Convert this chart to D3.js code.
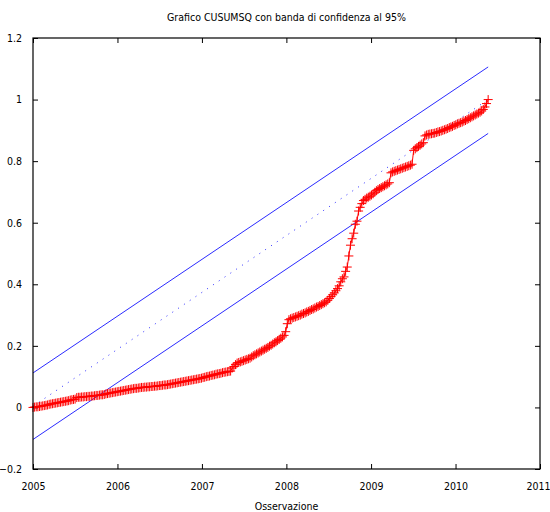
<!DOCTYPE html>
<html>
<head>
<meta charset="utf-8">
<script src="https://cdn.jsdelivr.net/npm/d3@7"></script>
<style>
  body { margin: 0; background: #fff; }
  text { font-family: "DejaVu Sans Condensed", "DejaVu Sans", sans-serif; font-size: 10.5px; fill: #000; }
</style>
</head>
<body>
<div id="chart"></div>
<script>
// weekly observations starting at the first week of 2005
var startDate = new Date(2005, 0, 1)

var cusumsq = [
  0.000, 0.001, 0.002, 0.002, 0.003, 0.004, 0.005, 0.006, 0.007, 0.008, 0.010, 0.011, 0.012, 0.013,
  0.014, 0.015, 0.016, 0.017, 0.018, 0.019, 0.020, 0.021, 0.022, 0.024, 0.025, 0.026, 0.027, 0.032,
  0.033, 0.033, 0.034, 0.034, 0.035, 0.035, 0.036, 0.036, 0.037, 0.037, 0.038, 0.039, 0.039, 0.040,
  0.041, 0.041, 0.042, 0.044, 0.045, 0.046, 0.047, 0.048, 0.049, 0.050, 0.051,
  0.052, 0.053, 0.054, 0.055, 0.056, 0.057, 0.058, 0.059, 0.060, 0.061, 0.062, 0.062, 0.063, 0.064,
  0.065, 0.065, 0.066, 0.066, 0.067, 0.067, 0.068, 0.068, 0.069, 0.069, 0.070, 0.071, 0.071, 0.072,
  0.073, 0.073, 0.074,
  0.075, 0.076, 0.077, 0.078, 0.079, 0.080, 0.081, 0.082, 0.083, 0.084, 0.085, 0.086, 0.087, 0.088,
  0.089, 0.090, 0.091, 0.092, 0.093, 0.094, 0.095, 0.097, 0.098, 0.100,
  0.101, 0.102, 0.104, 0.105, 0.106, 0.108, 0.109, 0.110, 0.111, 0.113, 0.114, 0.115, 0.116, 0.117,
  0.118, 0.128,
  0.133, 0.139, 0.144, 0.146, 0.148, 0.150, 0.152, 0.154, 0.156, 0.158, 0.160, 0.164, 0.168, 0.171,
  0.174, 0.177, 0.180, 0.183, 0.186, 0.189, 0.192, 0.195, 0.199, 0.202, 0.206, 0.210, 0.213, 0.217,
  0.221,
  0.225, 0.229, 0.234, 0.246, 0.272, 0.285, 0.288, 0.290,
  0.292, 0.294, 0.296, 0.298, 0.300, 0.303, 0.305, 0.307, 0.310, 0.312, 0.315, 0.318, 0.320, 0.323,
  0.326, 0.328, 0.331, 0.334, 0.337, 0.340, 0.343, 0.348, 0.354,
  0.360, 0.366, 0.372, 0.379, 0.386, 0.395, 0.408, 0.418, 0.424, 0.442, 0.456, 0.492, 0.527, 0.548,
  0.566, 0.595, 0.605, 0.638, 0.650, 0.662, 0.672,
  0.676, 0.680, 0.683, 0.686, 0.690, 0.694, 0.699, 0.704, 0.708, 0.711, 0.714, 0.717, 0.720, 0.723,
  0.726, 0.730,
  0.762, 0.765, 0.767, 0.769, 0.771, 0.773, 0.775, 0.777, 0.779, 0.781, 0.783, 0.785, 0.787, 0.790,
  0.835, 0.840, 0.844, 0.848, 0.852, 0.856, 0.860,
  0.882, 0.885, 0.887, 0.888, 0.889, 0.890, 0.891, 0.893, 0.895, 0.896, 0.898, 0.900, 0.902, 0.904,
  0.906, 0.909, 0.911, 0.913, 0.916, 0.918, 0.921, 0.923, 0.925, 0.927, 0.930, 0.932, 0.935, 0.938,
  0.941, 0.944, 0.947, 0.950, 0.953, 0.956, 0.959, 0.963, 0.968, 0.976, 0.987, 1.000
]

// straight lines between first and last observation
var expected  = [0.004, 1.000]
var upperBand = [0.112, 1.106]
var lowerBand = [-0.104, 0.890]

var xTickYears = [2005, 2006, 2007, 2008, 2009, 2010, 2011]
var yTicks = [-0.2, 0, 0.2, 0.4, 0.6, 0.8, 1, 1.2]

var title = "Grafico CUSUMSQ con banda di confidenza al 95%"
var xLabel = "Osservazione"

var margin = {top: 38, right: 10, bottom: 43, left: 33},
    width = 550 - margin.left - margin.right,
    height = 512 - margin.top - margin.bottom;

var svgRoot = d3.select("#chart")
  .append("svg")
    .attr("width", 550)
    .attr("height", 512)

var svg = svgRoot.append("g")
    .attr("transform", "translate(" + margin.left + "," + margin.top + ")");

var data = cusumsq.map(function(v, i) {
  return {date: d3.timeWeek.offset(startDate, i), value: v}
})
var firstDate = data[0].date,
    lastDate = data[data.length - 1].date

var x = d3.scaleTime()
  .domain([new Date(2005, 0, 1), new Date(2011, 0, 1)])
  .range([0, width])

var y = d3.scaleLinear()
  .domain([-0.2, 1.2])
  .range([height, 0])

var xTicks = xTickYears.map(function(yr) { return new Date(yr, 0, 1) })

// bottom axis, ticks pointing inside
var xAxisG = svg.append("g")
  .attr("transform", "translate(0," + height + ")")
  .call(d3.axisBottom(x).tickValues(xTicks).tickSizeInner(-5).tickSizeOuter(0)
    .tickPadding(14).tickFormat(d3.timeFormat("%Y")))
  .call(function(g) { g.select(".domain").remove() })

// the last year label sits against the window edge
xAxisG.selectAll(".tick text")
  .filter(function(d, i) { return i === xTicks.length - 1 })
  .attr("dx", -2)

// top mirror ticks
svg.append("g")
  .call(d3.axisTop(x).tickValues(xTicks).tickSizeInner(-5).tickSizeOuter(0).tickFormat(""))
  .call(function(g) { g.select(".domain").remove() })

svg.append("g")
  .call(d3.axisLeft(y).tickValues(yTicks).tickSizeInner(-5).tickSizeOuter(0)
    .tickPadding(11).tickFormat(d3.format("")))
  .call(function(g) { g.select(".domain").remove() })

svg.append("g")
  .attr("transform", "translate(" + width + ",0)")
  .call(d3.axisRight(y).tickValues(yTicks).tickSizeInner(-5).tickSizeOuter(0).tickFormat(""))
  .call(function(g) { g.select(".domain").remove() })

svg.selectAll(".tick line").attr("stroke", "#000")
svg.selectAll(".tick text").style("font-size", "10.5px")
  .style("font-family", '"DejaVu Sans Condensed", "DejaVu Sans", sans-serif')

var line = d3.line()
  .x(function(d) { return x(d.date) })
  .y(function(d) { return y(d.value) })

function endPoints(pair) {
  return [{date: firstDate, value: pair[0]}, {date: lastDate, value: pair[1]}]
}

// confidence band
svg.append("path")
  .datum(endPoints(upperBand))
  .attr("fill", "none")
  .attr("stroke", "#2b2bff")
  .attr("stroke-width", 1)
  .attr("d", line)

svg.append("path")
  .datum(endPoints(lowerBand))
  .attr("fill", "none")
  .attr("stroke", "#2b2bff")
  .attr("stroke-width", 1)
  .attr("d", line)

svg.append("path")
  .datum(endPoints(expected))
  .attr("fill", "none")
  .attr("stroke", "#2b2bff")
  .attr("stroke-width", 1)
  .attr("stroke-dasharray", "1,6")
  .attr("d", line)

// cusumsq with + markers
svg.append("path")
  .datum(data)
  .attr("fill", "none")
  .attr("stroke", "#ff0000")
  .attr("stroke-width", 1)
  .attr("d", line)

var s = 4.5
svg.append("g")
  .selectAll("path")
  .data(data)
  .enter()
  .append("path")
    .attr("fill", "none")
    .attr("stroke", "#ff0000")
    .attr("stroke-width", 1)
    .attr("d", function(d) {
      var cx = x(d.date), cy = y(d.value)
      return "M" + (cx - s) + "," + cy + "H" + (cx + s) + "M" + cx + "," + (cy - s) + "V" + (cy + s)
    })

// frame
svg.append("rect")
  .attr("width", width)
  .attr("height", height)
  .attr("fill", "none")
  .attr("stroke", "#000")
  .attr("stroke-width", 1.2)

svgRoot.append("text")
  .attr("x", margin.left + width / 2)
  .attr("y", 21)
  .attr("text-anchor", "middle")
  .text(title)

svgRoot.append("text")
  .attr("x", margin.left + width / 2)
  .attr("y", 510)
  .attr("text-anchor", "middle")
  .text(xLabel)
</script>
</body>
</html>
